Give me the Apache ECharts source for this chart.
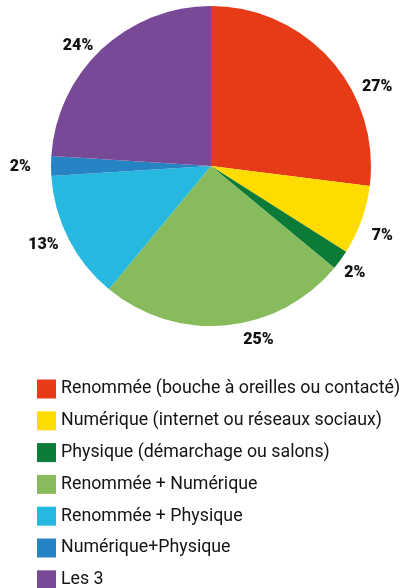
<!DOCTYPE html>
<html>
<head>
<meta charset="utf-8">
<script src="https://cdn.jsdelivr.net/npm/echarts@6/dist/echarts.min.js"></script>
<style>
  html, body { margin: 0; padding: 0; background: #fff; }
  #chart { width: 404px; height: 588px; }
</style>
</head>
<body>
<div id="chart"></div>
<script>
// Canaux d'acquisition des clients (parts en %)
const categories = [
  'Renommée (bouche à oreilles ou contacté)',
  'Numérique (internet ou réseaux sociaux)',
  'Physique (démarchage ou salons)',
  'Renommée + Numérique',
  'Renommée + Physique',
  'Numérique+Physique',
  'Les 3'
];
const shares = [27, 7, 2, 25, 13, 2, 24];
const palette = ['#E63B16', '#FFDC00', '#0B7B37', '#87BB5B', '#26B8DE', '#2684C4', '#784996'];

// small hand nudges so percentage labels sit clear of the slice edges
const labelNudge = [[17, 35], [-6, 12], [-11, 6], [11, 3], [6, 1], [-3, 1], [5, 5]];

const chart = echarts.init(document.getElementById('chart'), null, { renderer: 'canvas' });

chart.setOption({
  animation: false,
  color: palette,
  legend: {
    type: 'plain',
    orient: 'vertical',
    left: 37,
    top: 379.5,
    height: 220,
    padding: 0,
    itemWidth: 19,
    itemHeight: 19,
    itemGap: 12.8,
    icon: 'rect',
    data: categories,
    textStyle: { fontFamily: 'Roboto', fontSize: 17.8, color: '#141414' }
  },
  series: [{
    type: 'pie',
    center: [211, 166],
    radius: [0, 160],
    startAngle: 90,
    clockwise: true,
    avoidLabelOverlap: false,
    data: categories.map((name, i) => ({
      name,
      value: shares[i],
      label: { offset: labelNudge[i] }
    })),
    label: {
      show: true,
      position: 'outside',
      formatter: '{c}%',
      fontFamily: 'Roboto',
      fontWeight: 900,
      fontSize: 16,
      color: '#111'
    },
    labelLine: { show: false, length: 12, length2: 0 },
    itemStyle: { borderWidth: 0 },
    emphasis: { disabled: true }
  }]
});
</script>
</body>
</html>
